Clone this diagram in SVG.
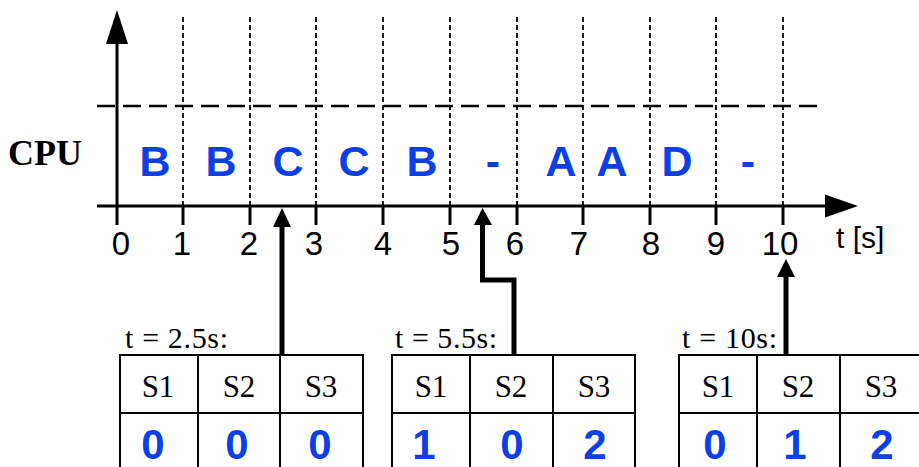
<svg xmlns="http://www.w3.org/2000/svg" width="919" height="467" viewBox="0 0 919 467">
<style>
.axis{stroke:#000;stroke-width:3;fill:none}
.tick{stroke:#000;stroke-width:3}
.vgrid{stroke:#000;stroke-width:1.8;stroke-dasharray:5 3}
.hgrid{stroke:#000;stroke-width:2.5;stroke-dasharray:18 8}
.num{font-family:"Liberation Sans",Arial,sans-serif;font-size:33px;text-anchor:middle;fill:#000}
.lbl{font-family:"Liberation Sans",Arial,sans-serif;font-size:30px;fill:#000}
.task{font-family:"Liberation Sans",Arial,sans-serif;font-size:43px;font-weight:bold;text-anchor:middle;fill:#0a40e6}
.cpu{font-family:"Liberation Serif","Times New Roman",serif;font-size:36px;font-weight:bold;fill:#000}
.cell{fill:#fff;stroke:#000;stroke-width:2}
.hdr{font-family:"Liberation Serif","Times New Roman",serif;font-size:31px;text-anchor:middle;fill:#000}
.tt{font-family:"Liberation Serif","Times New Roman",serif;font-size:30px;fill:#000}
.val{font-family:"Liberation Sans",Arial,sans-serif;font-size:42px;font-weight:bold;text-anchor:middle;fill:#0a40e6}
.conn{stroke:#000;stroke-width:5;fill:none}
</style>
<rect width="919" height="467" fill="#fff"/>
<g id="grid">
<line class="vgrid" x1="183" y1="17" x2="183" y2="206"/>
<line class="vgrid" x1="250" y1="17" x2="250" y2="206"/>
<line class="vgrid" x1="316" y1="17" x2="316" y2="206"/>
<line class="vgrid" x1="383" y1="17" x2="383" y2="206"/>
<line class="vgrid" x1="450" y1="17" x2="450" y2="206"/>
<line class="vgrid" x1="517" y1="17" x2="517" y2="206"/>
<line class="vgrid" x1="583" y1="17" x2="583" y2="206"/>
<line class="vgrid" x1="650" y1="17" x2="650" y2="206"/>
<line class="vgrid" x1="716" y1="17" x2="716" y2="206"/>
<line class="vgrid" x1="783" y1="17" x2="783" y2="206"/>
<line class="hgrid" x1="97" y1="106" x2="821" y2="106"/>
</g>
<g id="axes">
<line class="axis" x1="117" y1="225" x2="117" y2="40"/>
<polygon points="117,10 106,44 128,44" fill="#000"/>
<line class="axis" x1="97" y1="206" x2="828" y2="206"/>
<polygon points="858,206 825,194.5 825,217.5" fill="#000"/>
<line class="tick" x1="183" y1="206" x2="183" y2="225"/>
<line class="tick" x1="250" y1="206" x2="250" y2="225"/>
<line class="tick" x1="316" y1="206" x2="316" y2="225"/>
<line class="tick" x1="383" y1="206" x2="383" y2="225"/>
<line class="tick" x1="450" y1="206" x2="450" y2="225"/>
<line class="tick" x1="517" y1="206" x2="517" y2="225"/>
<line class="tick" x1="583" y1="206" x2="583" y2="225"/>
<line class="tick" x1="650" y1="206" x2="650" y2="225"/>
<line class="tick" x1="716" y1="206" x2="716" y2="225"/>
<line class="tick" x1="783" y1="206" x2="783" y2="225"/>
<text class="num" x="121" y="255">0</text>
<text class="num" x="182" y="255">1</text>
<text class="num" x="249" y="255">2</text>
<text class="num" x="314" y="255">3</text>
<text class="num" x="383" y="255">4</text>
<text class="num" x="451" y="255">5</text>
<text class="num" x="515" y="255">6</text>
<text class="num" x="579" y="255">7</text>
<text class="num" x="651" y="255">8</text>
<text class="num" x="716" y="255">9</text>
<text class="num" x="780" y="255">10</text>
<text class="lbl" x="836" y="248">t [s]</text>
<text class="cpu" x="8" y="165">CPU</text>
</g>
<g id="tasks">
<text class="task" x="155" y="176">B</text>
<text class="task" x="221" y="176">B</text>
<text class="task" x="288" y="176">C</text>
<text class="task" x="354" y="176">C</text>
<text class="task" x="422" y="176">B</text>
<text class="task" x="493" y="176">-</text>
<text class="task" x="561" y="176">A</text>
<text class="task" x="612" y="176">A</text>
<text class="task" x="677" y="176">D</text>
<text class="task" x="748" y="176">-</text>
</g>
<g id="connectors">
<line class="conn" x1="282" y1="355" x2="282" y2="224"/>
<polygon points="282,208 273,227 291,227" fill="#000"/>
<polyline class="conn" points="514,355 514,280 482.5,280 482.5,222"/>
<polygon points="482.5,208 474,225 492,225" fill="#000"/>
<line class="conn" x1="786" y1="355" x2="786" y2="275"/>
<polygon points="786,259 777,277 795,277" fill="#000"/>
</g>
<g id="state1">
<text class="tt" x="125" y="348" textLength="103" lengthAdjust="spacing">t = 2.5s:</text>
<rect class="cell" x="120" y="355" width="78" height="58"/>
<rect class="cell" x="198" y="355" width="82" height="58"/>
<rect class="cell" x="280" y="355" width="83" height="58"/>
<rect class="cell" x="120" y="413" width="78" height="60"/>
<rect class="cell" x="198" y="413" width="82" height="60"/>
<rect class="cell" x="280" y="413" width="83" height="60"/>
<text class="hdr" x="158" y="397">S1</text>
<text class="hdr" x="239" y="397">S2</text>
<text class="hdr" x="321" y="397">S3</text>
<text class="val" x="153" y="459">0</text>
<text class="val" x="237" y="459">0</text>
<text class="val" x="320" y="459">0</text>
</g>
<g id="state2">
<text class="tt" x="395" y="348" textLength="102" lengthAdjust="spacing">t = 5.5s:</text>
<rect class="cell" x="392" y="355" width="78" height="58"/>
<rect class="cell" x="470" y="355" width="83" height="58"/>
<rect class="cell" x="553" y="355" width="82" height="58"/>
<rect class="cell" x="392" y="413" width="78" height="60"/>
<rect class="cell" x="470" y="413" width="83" height="60"/>
<rect class="cell" x="553" y="413" width="82" height="60"/>
<text class="hdr" x="431" y="397">S1</text>
<text class="hdr" x="511" y="397">S2</text>
<text class="hdr" x="594" y="397">S3</text>
<text class="val" x="424" y="459">1</text>
<text class="val" x="512" y="459">0</text>
<text class="val" x="595" y="459">2</text>
</g>
<g id="state3">
<text class="tt" x="682" y="348" textLength="95" lengthAdjust="spacing">t = 10s:</text>
<rect class="cell" x="679" y="355" width="78" height="58"/>
<rect class="cell" x="757" y="355" width="83" height="58"/>
<rect class="cell" x="840" y="355" width="82" height="58"/>
<rect class="cell" x="679" y="413" width="78" height="60"/>
<rect class="cell" x="757" y="413" width="83" height="60"/>
<rect class="cell" x="840" y="413" width="82" height="60"/>
<text class="hdr" x="718" y="397">S1</text>
<text class="hdr" x="798" y="397">S2</text>
<text class="hdr" x="881" y="397">S3</text>
<text class="val" x="715" y="459">0</text>
<text class="val" x="795" y="459">1</text>
<text class="val" x="882" y="459">2</text>
</g>
</svg>
